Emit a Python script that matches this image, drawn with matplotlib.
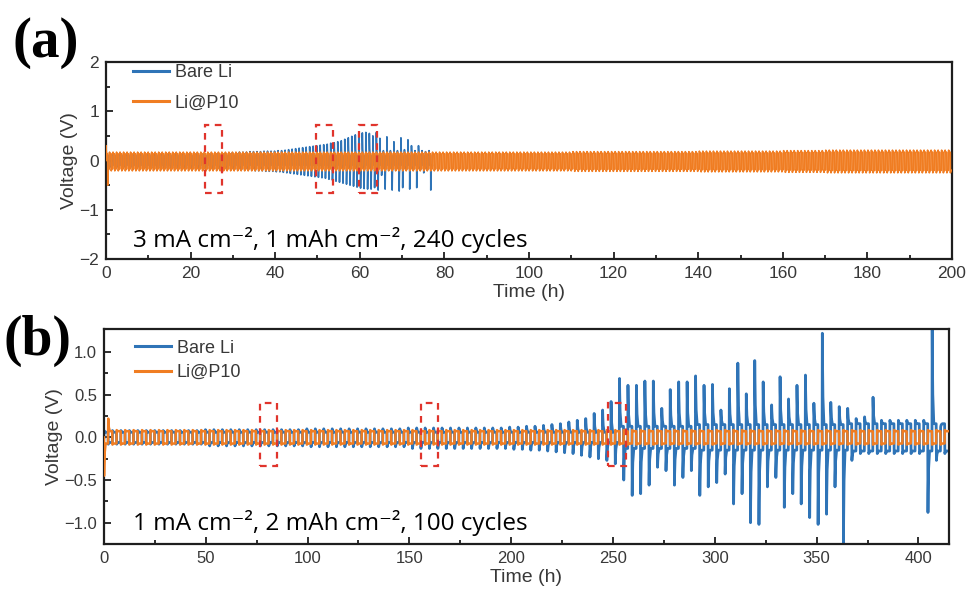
import numpy as np
import matplotlib.pyplot as plt
from matplotlib.patches import Rectangle

BLUE = "#2f74b7"
ORANGE = "#f07d22"
RED = "#e0342c"
TICK_GREY = "#383838"

# ---- panel (a): 3 mA cm-2, 1 mAh cm-2 ----
a_period = 0.83  # h per cycle
# Bare Li, peak voltage of each cycle (V), cell dies at ~77 h
a_bare_top = [0.12, 0.12, 0.12, 0.12, 0.12, 0.12, 0.12, 0.12, 0.12, 0.12,
              0.13, 0.13, 0.13, 0.13, 0.13, 0.13, 0.13, 0.13, 0.13, 0.13,
              0.13, 0.13, 0.14, 0.14, 0.14, 0.14, 0.14, 0.14, 0.14, 0.14,
              0.14, 0.14, 0.15, 0.15, 0.15, 0.16, 0.16, 0.16, 0.17, 0.17,
              0.17, 0.18, 0.18, 0.18, 0.18, 0.19, 0.19, 0.19, 0.19, 0.20,
              0.20, 0.21, 0.22, 0.23, 0.24, 0.25, 0.26, 0.27, 0.28, 0.29,
              0.30, 0.31, 0.32, 0.33, 0.35, 0.36, 0.38, 0.40, 0.43, 0.46,
              0.49, 0.52, 0.55, 0.56, 0.57, 0.55, 0.50, 0.57, 0.45, 0.20,
              0.48, 0.20, 0.38, 0.20, 0.46, 0.22, 0.42, 0.30, 0.20, 0.30,
              0.20, 0.18, 0.20]
a_bare_bot = [-0.14, -0.14, -0.14, -0.14, -0.14, -0.14, -0.14, -0.14, -0.14, -0.14,
              -0.15, -0.15, -0.15, -0.15, -0.15, -0.15, -0.15, -0.15, -0.15, -0.15,
              -0.16, -0.16, -0.16, -0.16, -0.16, -0.16, -0.16, -0.16, -0.16, -0.16,
              -0.17, -0.17, -0.17, -0.18, -0.18, -0.18, -0.19, -0.19, -0.19, -0.20,
              -0.20, -0.20, -0.21, -0.21, -0.21, -0.22, -0.22, -0.22, -0.23, -0.23,
              -0.24, -0.25, -0.26, -0.27, -0.28, -0.29, -0.30, -0.31, -0.32, -0.33,
              -0.34, -0.35, -0.36, -0.38, -0.40, -0.42, -0.44, -0.46, -0.48, -0.50,
              -0.52, -0.54, -0.56, -0.57, -0.58, -0.58, -0.55, -0.60, -0.30, -0.58,
              -0.20, -0.60, -0.20, -0.62, -0.55, -0.20, -0.58, -0.20, -0.55, -0.20,
              -0.25, -0.20, -0.60]
a_bare_level = 0.10
# Li@P10, peak voltage per 10 h block
a_p10_block_h = 10
a_p10_top = [0.17, 0.17, 0.17, 0.17, 0.17, 0.17, 0.17, 0.17, 0.17, 0.17,
             0.17, 0.18, 0.18, 0.18, 0.19, 0.19, 0.20, 0.21, 0.21, 0.21]
a_p10_bot = [-0.21, -0.21, -0.21, -0.21, -0.21, -0.21, -0.21, -0.21, -0.21, -0.21,
             -0.21, -0.22, -0.22, -0.22, -0.23, -0.23, -0.24, -0.25, -0.25, -0.25]
a_p10_first = (0.30, -0.50)
a_boxes = [(23.4, 27.4), (49.6, 53.7), (59.8, 64.0)]

# ---- panel (b): 1 mA cm-2, 2 mAh cm-2 ----
b_period = 4.15
b_bare_top = [0.08, 0.08, 0.08, 0.08, 0.08, 0.08, 0.08, 0.08, 0.08, 0.08,
              0.08, 0.08, 0.09, 0.09, 0.09, 0.09, 0.09, 0.09, 0.09, 0.09,
              0.09, 0.09, 0.09, 0.09, 0.10, 0.10, 0.10, 0.10, 0.10, 0.10,
              0.10, 0.10, 0.10, 0.10, 0.10, 0.10, 0.11, 0.11, 0.11, 0.11,
              0.11, 0.11, 0.11, 0.11, 0.11, 0.11, 0.11, 0.11, 0.12, 0.12,
              0.13, 0.13, 0.14, 0.15, 0.16, 0.18, 0.20, 0.22, 0.28, 0.32,
              0.42, 0.69, 0.61, 0.61, 0.66, 0.66, 0.34, 0.56, 0.65, 0.65,
              0.72, 0.61, 0.62, 0.32, 0.57, 0.87, 0.51, 0.90, 0.65, 0.38,
              0.71, 0.45, 0.61, 0.73, 0.40, 1.22, 0.41, 0.36, 0.34, 0.22,
              0.24, 0.47, 0.20, 0.20, 0.20, 0.20, 0.20, 0.20, 1.30, 0.12]
b_bare_bot = [-0.08, -0.08, -0.08, -0.08, -0.08, -0.08, -0.08, -0.08, -0.08, -0.08,
              -0.08, -0.08, -0.10, -0.10, -0.10, -0.10, -0.10, -0.10, -0.10, -0.10,
              -0.10, -0.10, -0.10, -0.10, -0.11, -0.11, -0.11, -0.11, -0.11, -0.11,
              -0.11, -0.11, -0.11, -0.11, -0.11, -0.11, -0.13, -0.13, -0.13, -0.13,
              -0.13, -0.13, -0.13, -0.13, -0.13, -0.13, -0.13, -0.13, -0.14, -0.14,
              -0.15, -0.15, -0.16, -0.17, -0.18, -0.19, -0.21, -0.23, -0.25, -0.27,
              -0.31, -0.50, -0.68, -0.66, -0.56, -0.35, -0.39, -0.56, -0.47, -0.39,
              -0.68, -0.58, -0.53, -0.43, -0.78, -0.66, -1.00, -1.02, -0.58, -0.47,
              -0.82, -0.66, -0.78, -0.94, -1.02, -0.90, -0.58, -1.33, -0.27, -0.19,
              -0.19, -0.19, -0.19, -0.19, -0.19, -0.19, -0.19, -0.88, -0.27, -0.19]
# plateau level of Bare Li: (first cycle, level)
b_bare_levels = [(0, 0.06), (61, 0.13), (70, 0.15), (88, 0.16)]
b_p10_top = 0.085
b_p10_bot = -0.085
b_p10_first = (0.22, -0.45)
b_boxes = [(76.7, 85.0), (155.7, 164.2), (247.7, 256.5)]


def trace(tops, bots, levels_top, levels_bot, period, neg_first=False):
    """Galvanostatic profile: each half cycle jumps to its peak, then relaxes to a plateau."""
    t, v = [0.0], [0.0]
    half = period / 2
    for k in range(len(tops)):
        halves = [(tops[k], levels_top[k]), (bots[k], levels_bot[k])]
        if neg_first:
            halves.reverse()
        for j, (peak, level) in enumerate(halves):
            s = k * period + j * half
            t += [s + 0.02 * half, s + 0.06 * half, s + 0.16 * half, s + 0.4 * half, s + 0.96 * half]
            v += [peak, level + 0.7 * (peak - level), level + 0.3 * (peak - level), level, level]
    return np.array(t), np.array(v)


plt.rcParams["font.family"] = ["Liberation Sans", "DejaVu Sans"]
fig = plt.figure(figsize=(9.67, 5.96), dpi=100)
ax_a = fig.add_axes([0.1096, 0.5654, 0.8749, 0.3306])
ax_b = fig.add_axes([0.1075, 0.0872, 0.8739, 0.3608])

# panel (a) traces
top = np.array(a_bare_top)
bot = np.array(a_bare_bot)
ta, va = trace(top, bot, np.full(top.size, a_bare_level), np.full(top.size, -a_bare_level), a_period)
ax_a.plot(ta, va, color=BLUE, lw=1.2, label="Bare Li", zorder=2)

n_a = int(np.ceil(200 / a_period)) + 1
blk = np.minimum((np.arange(n_a) * a_period // a_p10_block_h).astype(int), len(a_p10_top) - 1)
ptop = np.array(a_p10_top)[blk]
pbot = np.array(a_p10_bot)[blk]
ltop, lbot = ptop * 0.8, pbot * 0.8
ptop[0], pbot[0] = a_p10_first
tp, vp = trace(ptop, pbot, ltop, lbot, a_period)
ax_a.plot(tp, vp, color=ORANGE, lw=1.2, label="Li@P10", zorder=3)

# panel (b) traces
top = np.array(b_bare_top)
bot = np.array(b_bare_bot)
lvl = np.zeros(top.size)
for start, level in b_bare_levels:
    lvl[start:] = level
tb, vb = trace(top, bot, lvl, -lvl, b_period)
ax_b.plot(tb, vb, color=BLUE, lw=2.0, label="Bare Li", zorder=2)

n_b = top.size
ptop = np.full(n_b, b_p10_top)
pbot = np.full(n_b, b_p10_bot)
ltop, lbot = ptop * 0.85, pbot * 0.85
ptop[0], pbot[0] = b_p10_first
tp, vp = trace(ptop, pbot, ltop, lbot, b_period, neg_first=True)
ax_b.plot(tp, vp, color=ORANGE, lw=1.8, label="Li@P10", zorder=3)

# dashed boxes marking the zoomed regions
for x0, x1 in a_boxes:
    ax_a.add_patch(Rectangle((x0, -0.65), x1 - x0, 1.37, fill=False, ec=RED,
                             lw=1.6, ls=(0, (3, 2.5)), zorder=4))
for x0, x1 in b_boxes:
    ax_b.add_patch(Rectangle((x0, -0.34), x1 - x0, 0.74, fill=False, ec=RED,
                             lw=1.6, ls=(0, (3, 2.5)), zorder=4))

ax_a.set_xlim(0, 200)
ax_a.set_ylim(-2, 2)
ax_a.set_xticks(np.arange(0, 201, 20))
ax_a.set_xticks(np.arange(10, 200, 20), minor=True)
ax_a.set_yticks([-2, -1, 0, 1, 2])
ax_a.set_yticklabels(["\u22122", "\u22121", "0", "1", "2"])
ax_a.set_yticks([-1.5, -0.5, 0.5, 1.5], minor=True)

ax_b.set_xlim(0, 415)
ax_b.set_ylim(-1.25, 1.27)
ax_b.set_xticks(np.arange(0, 401, 50))
ax_b.set_xticks(np.arange(25, 415, 50), minor=True)
ax_b.set_yticks([-1.0, -0.5, 0.0, 0.5, 1.0])
ax_b.set_yticklabels(["\u22121.0", "\u22120.5", "0.0", "0.5", "1.0"])
ax_b.set_yticks([-0.75, -0.25, 0.25, 0.75], minor=True)

for ax, size in ((ax_a, 12.5), (ax_b, 12)):
    for sp in ax.spines.values():
        sp.set_linewidth(1.6)
        sp.set_color("#1e1e1e")
    ax.tick_params(which="both", direction="in", top=False, right=False,
                   width=1.3, color="#1e1e1e", labelsize=size, labelcolor=TICK_GREY)
    ax.tick_params(which="major", length=5, pad=5)
    ax.tick_params(which="minor", length=3)
    ax.set_xlabel("Time (h)", fontsize=14, color=TICK_GREY, labelpad=2)
ax_a.set_ylabel("Voltage (V)", fontsize=14, color=TICK_GREY, labelpad=1)
ax_b.set_ylabel("Voltage (V)", fontsize=14, color=TICK_GREY, labelpad=1)

leg_kw = dict(loc="upper left", frameon=False, fontsize=13, borderpad=0, borderaxespad=0,
              handlelength=2.0, handletextpad=0.3, labelcolor=TICK_GREY)
leg = ax_a.legend(bbox_to_anchor=(0.032, 0.99), labelspacing=0.75, **leg_kw)
for h in leg.get_lines():
    h.set_linewidth(2.2)
leg = ax_b.legend(bbox_to_anchor=(0.037, 0.95), labelspacing=0.4, **leg_kw)
for h in leg.get_lines():
    h.set_linewidth(2.2)

note_font = ["Open Sans", "DejaVu Sans"]
ax_a.text(0.032, 0.061, "3 mA cm\u207b\u00b2, 1 mAh cm\u207b\u00b2, 240 cycles",
          transform=ax_a.transAxes, fontsize=17.5, va="baseline", family=note_font)
ax_b.text(0.034, 0.065, "1 mA cm\u207b\u00b2, 2 mAh cm\u207b\u00b2, 100 cycles",
          transform=ax_b.transAxes, fontsize=17.5, va="baseline", family=note_font)

fig.text(0.013, 0.904, "(a)", fontsize=41, fontweight="bold", family="Liberation Serif",
         va="baseline")
fig.text(0.004, 0.404, "(b)", fontsize=40, fontweight="bold", family="Liberation Serif",
         va="baseline")

fig.savefig("out.png", dpi=100)
